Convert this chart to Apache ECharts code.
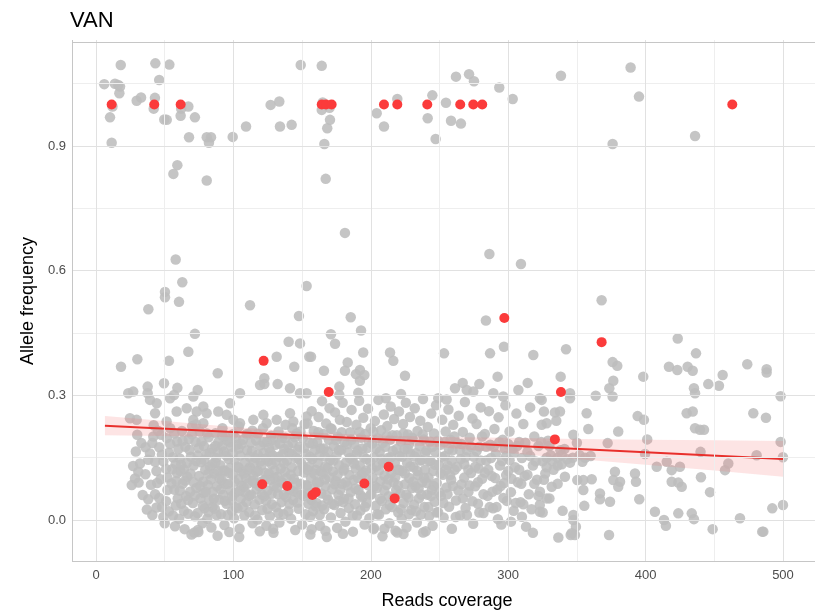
<!DOCTYPE html>
<html>
<head>
<meta charset="utf-8">
<script src="https://cdn.jsdelivr.net/npm/echarts@6/dist/echarts.min.js"></script>
<style>
html,body{margin:0;padding:0;background:#fff;}
#chart{width:815px;height:612px;}
</style>
</head>
<body>
<div id="chart"></div>
<script>
// ---- labels and ticks ----
const chartTitle = 'VAN';
const xLabel = 'Reads coverage';
const yLabel = 'Allele frequency';
const xTicks = [0, 100, 200, 300, 400, 500];
const xMinorTicks = [50, 150, 250, 350, 450];
const yTicks = [0, 0.3, 0.6, 0.9];
const yMinorTicks = [0.15, 0.45, 0.75, 1.05];
const xRange = [-17.47, 528.4];
const yRange = [-0.1011, 1.1552];
// panel frame edges: left, bottom, top (the right edge lies past the canvas)
const frameX = [-17.4];
const frameY = [-0.1005, 1.1535];

// ---- jittered variant calls (coverage, allele frequency) ----
const grayUpper = [
  [18,1.095],[43.2,1.099],[53.4,1.096],[149,1.095],[6,1.049],[13.8,1.05],[16.2,1.047],[17.5,1.043],[17,1.027],
  [46,1.059],[29.6,1.009],[32.8,1.017],[42.9,1.016],[10.2,0.969],[11.4,0.908],[49.7,0.964],[51.5,0.963],
  [61.6,0.973],[67.2,0.995],[72,0.969],[67.7,0.921],[80.6,0.921],[83.7,0.921],[82.2,0.908],[99.5,0.922],
  [109.2,0.947],[127.1,0.999],[133.4,1.007],[133.9,0.947],[142.4,0.951],[59.2,0.854],[56.3,0.833],[80.6,0.817],
  [164.3,1.093],[164.3,0.987],[170.3,0.963],[168.3,0.943],[166.2,0.905],[167.2,0.821],[204.3,0.979],
  [209.6,0.947],[219.3,1.013],[241.4,0.967],[244.8,1.022],[247.2,0.917],[254.7,1.004],[258.4,0.961],
  [265.6,0.954],[262,1.067],[271.5,1.073],[275.1,1.056],[293.5,1.041],[303.3,1.013],
  [338.4,1.069],[389.1,1.089],[395.2,1.019],[376,0.905],[436,0.924],
  [12,0.995],[165,1.005],[170,0.992],[42,0.99],[62,0.99]
];

const grayMiddle = [
  [58,0.627],[62.8,0.572],[50.2,0.549],[50.2,0.536],[60.4,0.525],[38.1,0.507],[112.1,0.517],[153.3,0.563],
  [147.7,0.491],[72,0.448],[67.2,0.405],[140.2,0.429],[148.5,0.425],[131.5,0.393],[155.2,0.393],[144.3,0.369],
  [30.1,0.387],[18.2,0.369],[53.1,0.383],[88.6,0.353],[122.5,0.341],[122.5,0.327],[132.2,0.327],[141.2,0.317],
  [49.5,0.329],[59.2,0.318],[74,0.313],[37.6,0.321],[37.6,0.305],[23.5,0.305],[27.1,0.309],[153.3,0.305],
  [104.8,0.305],[119.4,0.325],
  [181.2,0.691],[286.3,0.640],[309.3,0.616],[185.4,0.488],[192.9,0.456],[171,0.447],[174,0.424],[156.5,0.393],
  [283.8,0.480],[286.8,0.401],[296.9,0.417],[253.3,0.401],[318.3,0.397],[194.5,0.403],[183.2,0.379],
  [181.2,0.359],[165.9,0.359],[214,0.403],[216.4,0.383],[192.1,0.361],[189.2,0.351],[195.3,0.349],
  [192.1,0.335],[224.9,0.347],[190.9,0.306],[177.1,0.321],[177.1,0.301],[222,0.303],[211,0.293],
  [266.9,0.330],[261.3,0.317],[279,0.327],[274.6,0.309],[269.8,0.313],[292.3,0.345],[289.2,0.305],
  [296.4,0.297],[307.4,0.313],[314.2,0.330],[323.1,0.293],[249.1,0.293],[255.2,0.290],
  [56.8,0.301],[70.8,0.297],[53.9,0.293],[44.2,0.281],[39.3,0.289],[43,0.257],[58.7,0.261],[66,0.269],
  [73.3,0.261],[78.1,0.273],[80.5,0.257],[89,0.261],[97.5,0.281],[121.8,0.253],[141.2,0.257],[148.5,0.305],
  [24.7,0.245],[29.6,0.241],[51.4,0.237],[70.8,0.241],[78.1,0.233],[95.1,0.253],[100,0.241],[104.8,0.233],
  [114.5,0.241],[124.2,0.233],[131.5,0.241],[143.6,0.237],[153.3,0.249]
];

const grayCore = [
  [36,0.175],[38,0.05],[39.3,0.16],[30.8,0.116],[26,0.084],[32,0.136],[28.4,0.100],
  [41,0.012],[43,0.062],[44,0.118],[46,0.175],[42,0.228],[48,0.031],[49,0.141],[44.5,0.089],[47.5,0.205],[50,-0.008],[41.7,0.201],
  [51,0.045],[52,0.102],[53,0.162],[54,0.221],[56,0.011],[57,0.073],[58,0.134],[59,0.189],[55.5,0.122],[57.5,-0.015],[59.5,0.052],[51.5,0.197],[58.5,0.094],
  [60.5,0.003],[61,0.148],[62,0.039],[62.5,0.214],[63,0.087],[64,0.122],[64.5,-0.022],[65,0.176],[65.5,0.058],[66.5,0.104],[67,0.015],[67.5,0.195],[68.5,0.068],[69,0.152],[69.5,-0.035],[70,0.226],[61.5,0.117],
  [70.5,0.041],[71,0.131],[72,0.009],[72.5,0.188],[73,0.077],[74,0.155],[74.5,-0.029],[75,0.106],[75.5,0.213],[76,0.052],[76.5,0.139],[77.5,-0.008],[78,0.092],[78.5,0.178],[79,0.028],[79.5,0.121],[72.8,0.23],[78.2,0.065],
  [80.5,0.158],[81,0.003],[81.5,0.084],[82,0.199],[82.5,0.047],[83,0.129],[84,-0.018],[84.5,0.171],[85,0.068],[86,0.112],[86.5,0.027],[87,0.209],[87.5,0.149],[88,0.081],[88.5,-0.038],[89,0.187],[89.5,0.049],[81.8,0.112],[84.8,0.031],[86.8,0.178],[88.8,0.118],
  [90.5,0.132],[91,0.014],[91.5,0.096],[92,0.221],[92.5,0.061],[93,0.165],[93.5,-0.012],[94,0.118],[95,0.039],[95.5,0.191],[96,0.087],[96.5,0.147],[97,-0.029],[98,0.071],[98.5,0.176],[99,0.021],[99.5,0.109],[100,0.207],[91.8,0.178],[93.8,0.046],[97.8,0.126],[99.2,0.058],[94.2,0.201],
  [100.5,0.004],[101,0.143],[101.5,0.066],[102.5,0.181],[103,0.028],[103.5,0.098],[104,0.225],[104.5,-0.021],[105,0.155],[105.5,0.052],[106,0.117],[107,0.193],[107.5,0.079],[108,0.011],[108.5,0.139],[109.5,0.043],[110,0.168],[101.8,0.197],[103.8,0.126],[105.8,0.083],[109.2,0.101],[104.2,-0.041],
  [110.5,0.088],[111,0.206],[111.5,0.019],[112,0.127],[113,0.061],[113.5,0.166],[114,-0.008],[114.5,0.107],[115.5,0.037],[116,0.149],[116.5,0.192],[117,0.074],[117.5,0.001],[118,0.118],[119,0.049],[119.5,0.179],[120,0.092],[111.8,0.152],[113.8,0.215],[115.8,0.089],[117.8,0.157],[119.2,-0.027],
  [120.5,0.131],[121,0.024],[121.5,0.221],[122,0.161],[122.5,0.057],[123.5,0.113],[124,-0.014],[124.5,0.188],[125,0.071],[125.5,0.142],[126.5,0.009],[127,0.097],[127.5,0.203],[128,0.038],[128.5,0.156],[129.5,0.081],[130,0.119],[123.8,0.047],[125.8,0.174],[127.8,0.134],[129.2,-0.031],
  [130.5,0.181],[131,0.031],[132,0.104],[132.5,0.062],[133,0.152],[133.5,-0.006],[134.5,0.124],[135,0.043],[135.5,0.198],[136,0.089],[136.5,0.014],[137,0.171],[137.5,0.116],[138,0.229],[138.5,0.055],[139,0.143],[140,0.021],[132.8,0.213],[136.8,0.137],
  [140.5,0.161],[141,0.072],[142,0.003],[142.5,0.127],[143,0.186],[143.5,0.048],[144,0.099],[145,-0.024],[145.5,0.149],[146,0.208],[146.5,0.066],[147,0.118],[147.5,0.027],[148,0.176],[149,0.087],[149.5,0.136],[150,-0.011],[142.8,0.221],[146.8,0.169],
  [150.5,0.197],[151,0.058],[151.5,0.114],[152.5,0.014],[153,0.159],[153.5,0.084],[154,0.232],[154.5,0.039],[155,0.128],[155.5,0.186],[156,-0.035],[156.5,0.101],[157,0.262],[157.5,0.147],[158,0.021],[158.5,0.214],[159,0.078],[159.5,0.169],[160,0.121],[151.8,0.231],[155.8,0.008],
  [160.5,0.041],[161,0.188],[161.5,0.137],[162,0.248],[162.5,0.091],[163,-0.014],[163.5,0.172],[164,0.064],[164.5,0.286],[165,0.111],[165.5,0.207],[166,0.026],[166.5,0.153],[167,0.081],[167.5,0.232],[168,-0.041],[168.5,0.126],[169,0.049],[169.5,0.193],[170,0.269],[162.8,0.012],[166.8,0.098],
  [170.5,0.144],[171,0.006],[171.5,0.219],[172,0.074],[172.5,0.117],[173,0.178],[173.5,0.036],[174,0.259],[174.5,0.094],[175,0.155],[175.5,-0.019],[176,0.201],[176.5,0.061],[177,0.132],[177.5,0.241],[178,0.017],[178.5,0.169],[179,0.087],[179.5,0.282],[180,0.119],[176.8,0.046],
  [180.5,0.051],[181,0.187],[181.5,-0.004],[182,0.139],[182.5,0.236],[183,0.083],[183.5,0.163],[184,0.029],[184.5,0.108],[185,0.211],[185.5,0.067],[186,0.265],[186.5,0.146],[187,-0.028],[187.5,0.096],[188,0.182],[188.5,0.038],[189,0.124],[189.5,0.229],[190,0.011],
  [190.5,0.167],[191,0.072],[191.5,0.287],[192,0.131],[192.5,0.023],[193,0.198],[193.5,0.109],[194,0.054],[194.5,0.246],[195,0.151],[195.5,-0.011],[196,0.207],[196.5,0.119],[197,0.041],[197.5,0.173],[198,0.268],[198.5,0.083],[199,0.004],[199.5,0.141],[200,0.221],
  [200.5,0.062],[201,0.184],[201.5,0.101],[202,-0.022],[202.5,0.151],[203,0.238],[203.5,0.034],[204,0.129],[204.5,0.077],[205,0.197],[205.5,0.289],[206,0.013],[206.5,0.164],[207,0.093],[207.5,0.216],[208,0.046],[208.5,-0.039],[209,0.138],[209.5,0.254],[210,0.107],
  [210.5,0.176],[211,0.026],[211.5,0.084],[212,0.226],[212.5,0.149],[213,0.057],[213.5,-0.008],[214,0.193],[214.5,0.273],[215,0.113],[215.5,0.031],[216,0.166],[216.5,0.091],[217,0.243],[217.5,0.137],[218,-0.026],[218.5,0.072],[219,0.204],[219.5,0.121],[220,0.018],
  [220.5,0.261],[221,0.154],[221.5,0.064],[222,0.189],[222.5,0.003],[223,0.118],[223.5,0.231],[224,0.041],[224.5,0.171],[225,0.086],[225.5,0.282],[226,-0.018],[226.5,0.137],[227,0.206],[227.5,0.054],[228,0.101],[228.5,0.248],[229,0.159],[229.5,0.024],[230,0.077],[223.8,-0.034],[227.8,0.183],
  [230.5,0.196],[231,0.128],[231.5,0.037],[232,0.269],[232.5,0.081],[233,0.161],[233.5,-0.006],[234,0.214],[234.5,0.108],[235,0.052],[235.5,0.178],[236,0.239],[236.5,0.013],[237,0.144],[237.5,0.091],[238,0.291],[238.5,0.194],[239,0.031],[239.5,0.121],[240,-0.027],
  [240.5,0.167],[241,0.061],[241.5,0.224],[242,0.102],[242.5,0.009],[243,0.189],[243.5,0.142],[244,0.256],[244.5,0.072],[245,-0.014],[245.5,0.118],[246,0.208],[246.5,0.044],[247,0.163],[247.5,0.276],[248,0.089],[249,0.019],[249.5,0.133],
  [250.5,0.181],[251,0.058],[252,0.241],[252.5,0.109],[253,0.006],[254,0.154],[254.5,0.213],[255,0.078],[256,0.131],[256.5,0.266],[257,0.032],[258,0.193],[258.5,0.097],[259,-0.021],[259.5,0.168],[260,0.229],
  [261,0.121],[262,0.047],[263,0.185],[264,0.251],[265,0.011],[265.5,0.147],[266,0.086],[267,0.212],[268,0.134],[268.5,0.284],[269,0.029],[270,0.168],[271,0.067],[272,0.198],[273,0.113],[274,0.244],[274.5,-0.009],[275,0.152],[276,0.081],[277,0.231],[278,0.039],[278.5,0.124],[279,0.176],[280,0.271],
  [281,0.099],[282,0.017],[283,0.207],[284,0.143],[285,0.058],[286,0.262],[287,0.181],[288,0.106],[289,0.028],[290,0.219],[291,0.159],[292,0.073],[293,0.247],[294,0.131],[295,-0.011],[296,0.193],[297,0.089],[298,0.276],[298.5,0.154],[299,0.046],[300,0.118],[292.5,0.002],
  [301,0.213],[302,0.067],[303,0.171],[304,0.022],[305,0.127],[306,0.256],[307,0.091],[308,0.188],[309,0.043],[310,0.149],[311,0.231],[312,0.106],[313,-0.016],[314,0.164],[315,0.062],[316,0.271],[318,0.131],[319,0.201],[318,-0.031],[302,-0.004],[310,0.008],
  [321,0.097],[322,0.178],[323,0.036],[325,0.141],[326,0.261],[327,0.112],[329,0.191],[330,0.052],[331,0.156],[333,0.121],[335,0.239],[336,0.087],[338,0.168],[339,0.134],
  [71.6,-0.030],[74.2,-0.024],[128.9,-0.021],[157,-0.022],[167,-0.026],[179.7,-0.033],[202.3,-0.019],[209.9,-0.021],[219.3,-0.030],[238.1,-0.030]
];

// second layer of the dense low-frequency cloud
const grayCoreFill = [
  [27,0.13],[29,0.165],[31,0.09],[33,0.185],[34,0.06],[30,0.205],
  [36,0.11],[37,0.025],[38,0.145],[40,0.085],[41,0.185],[43,0.14],[44,0.03],[45,0.215],
  [46,0.053],[47,0.098],[48,0.157],[49,0.007],[51,0.123],[52,0.072],[53,0.021],[54,0.183],[55,0.088],
  [56,0.151],[57,0.208],[58,0.035],[59,0.113],[60,0.171],[61,0.071],[62,0.133],[63,0.191],[64,0.022],[65,0.095],
  [66,0.137],[67,0.048],[68,0.169],[68.8,0.112],[69.8,0.206],[71,0.091],[72,0.059],[73,0.142],[74,0.017],[74.8,0.173],
  [75.8,0.082],[76.8,0.189],[77.8,0.034],[78.8,0.145],[79.8,0.068],[80.8,0.208],[81.8,0.019],[82.8,0.161],[83.8,0.098],[84.8,0.135],
  [85.8,0.051],[86.8,0.138],[87.8,0.012],[88.8,0.162],[89.8,0.101],[90.8,0.074],[91.8,0.203],[92.8,0.119],[93.8,0.087],[94.8,0.155],
  [95.8,0.012],[96.8,0.113],[97.8,0.187],[98.8,0.047],[99.8,0.161],[100.8,0.092],[101.8,0.031],[102.8,0.128],[103.8,0.172],[104.8,0.071],
  [105.8,0.183],[106.8,0.032],[107.8,0.112],[108.8,0.066],[109.8,0.207],[110.8,0.121],[111.8,0.058],[112.8,0.186],[113.8,0.094],[114.8,0.138],
  [115.8,0.011],[116.8,0.116],[117.8,0.207],[118.8,0.082],[119.8,0.141],[120.8,0.062],[121.8,0.187],[122.8,0.097],[123.8,0.148],[124.8,0.027],
  [125.8,0.112],[126.8,0.164],[127.8,0.063],[128.8,0.193],[129.8,0.101],[130.8,0.142],[131.8,0.078],[132.8,0.017],[133.8,0.184],[134.8,0.093],
  [135.8,0.158],[136.8,0.061],[137.8,0.198],[138.8,0.101],[139.8,0.178],[140.8,0.039],[141.8,0.109],[142.8,0.158],[143.8,0.069],[144.8,0.199],
  [145.8,0.089],[146.8,0.042],[147.8,0.146],[148.8,0.213],[149.8,0.061],[150.8,0.128],[151.8,0.174],[152.8,0.081],[153.8,0.121],[154.8,0.064],
  [155.8,0.152],[156.8,0.048],[157.8,0.184],[158.8,0.112],[159.8,0.033],[160.8,0.091],[161.8,0.211],[162.8,0.156],[163.8,0.117],[164.8,0.035],
  [165.8,0.172],[166.8,0.128],[167.8,0.059],[168.8,0.164],[169.8,0.103],[170.8,0.221],[171.8,0.039],[172.8,0.143],[173.8,0.086],[174.8,0.192],
  [175.8,0.108],[176.8,0.168],[177.8,0.073],[178.8,0.211],[179.8,0.043],[180.8,0.124],[181.8,0.091],[182.8,0.183],[183.8,0.052],[184.8,0.149],
  [185.8,0.193],[186.8,0.011],[187.8,0.136],[188.8,0.076],[189.8,0.159],[190.8,0.101],[191.8,0.212],[192.8,0.059],[193.8,0.172],[194.8,0.114],
  [195.8,0.032],[196.8,0.147],[197.8,0.096],[198.8,0.188],[199.8,0.061],[200.8,0.124],[201.8,0.213],[202.8,0.081],[203.8,0.172],[204.8,0.014],
  [205.8,0.119],[206.8,0.051],[207.8,0.146],[208.8,0.186],[209.8,0.071],[210.8,0.138],[211.8,0.202],[212.8,0.098],[213.8,0.036],[214.8,0.151],
  [215.8,0.204],[216.8,0.054],[217.8,0.103],[218.8,0.171],[219.8,0.083],[220.8,0.121],[221.8,0.026],[222.8,0.152],[223.8,0.208],[224.8,0.112],
  [225.8,0.061],[226.8,0.171],[227.8,0.014],[228.8,0.129],[229.8,0.198],[230.8,0.092],[231.8,0.153],[232.8,0.021],[233.8,0.118],[234.8,0.076],
  [235.8,0.143],[236.8,0.061],[237.8,0.206],[238.8,0.101],[239.8,0.162],[240.8,0.089],[241.8,0.031],[242.8,0.141],[243.8,0.058],[244.8,0.176],
  [245.8,0.082],[246.8,0.133],[247.8,0.018],[248.8,0.191],[249.8,0.066],[250.8,0.112],[251.8,0.151],[252.8,0.041],[253.8,0.188],[254.8,0.121],
  [255.8,0.062],[256.8,0.171],[257.8,0.108],[258.8,0.143],[259.8,0.082],[260.8,0.201],[261.8,0.007],[262.8,0.128],[263.8,0.071],[264.8,0.168],
  [266,0.183],[267,0.052],[268,0.102],[269,0.151],[270,0.012],[271,0.121],[272,0.083],[273,0.176],[274,0.045],
  [276,0.128],[277,0.166],[278,0.091],[279,0.018],[280,0.143],[281,0.201],[282,0.062],[283,0.114],[284,0.176],
  [285.5,0.121],[286.5,0.031],[287.5,0.149],[288.5,0.068],[289.5,0.176],[290.5,0.101],[291.5,0.031],[293.5,0.187],[294.5,0.082],
  [295.5,0.142],[296.5,0.053],[297.5,0.171],[298.5,0.108],[300,0.183],[301,0.144],[302.5,0.099],[304,0.161],
  [305.5,0.041],[306.5,0.178],[308,0.121],[309.5,0.087],[311,0.038],[312.5,0.186],[314,0.109],
  [316,0.154],[317,0.026],[319,0.087],[320,0.141],[322,0.058],[324,0.188],[326,0.097],[328,0.052]
];

const grayRight = [
  [368,0.529],[342.1,0.411],[423.4,0.437],[436.7,0.401],[376,0.380],[379.4,0.371],[417,0.369],[423.1,0.361],
  [430.6,0.369],[434.3,0.359],[474,0.375],[488.1,0.363],[488.1,0.355],[398.3,0.345],[456.1,0.349],[376.5,0.335],
  [373.6,0.317],[376,0.297],[445.6,0.327],[453.4,0.323],[435.2,0.317],[436,0.305],[338.2,0.345],[345,0.305],
  [363.7,0.299],[498.3,0.298],[345,0.293],[324.4,0.289],[334,0.259],[337.7,0.261],[357.1,0.257],[394.2,0.250],
  [398.8,0.241],[429.9,0.257],[434.3,0.261],[478.4,0.257],[487.6,0.246],[324.4,0.229],[328,0.233],[358.3,0.219],
  [380.1,0.213],[347.4,0.205],[436,0.221],[439.6,0.217],[442.5,0.217],[372.4,0.185],[401.2,0.194],[498.3,0.188],
  [500,0.151],[480.8,0.156],[440,0.164],[399.6,0.159],[330,0.178],[341,0.171],[350,0.186],
  [328,0.150],[332,0.142],[336,0.150],[339,0.156],[343,0.146],[347,0.150],[352,0.156],[356,0.150],[360,0.154],
  [328,0.127],[336,0.131],[345,0.138],[354,0.140],
  [377.7,0.116],[381.4,0.092],[376.5,0.096],[380.1,0.080],[392.3,0.112],[393,0.092],[408.1,0.128],[415.4,0.140],
  [419,0.120],[425,0.128],[457.8,0.120],[460.2,0.136],[440.3,0.103],[419,0.092],[423.8,0.090],[426.3,0.080],
  [446.9,0.067],[341.3,0.104],[331.7,0.080],[350.3,0.096],[354.7,0.096],[354.7,0.072],[360.8,0.098],[323.1,0.068],
  [323.1,0.020],[366.8,0.064],[366.8,0.050],[374.1,0.044],[395.4,0.050],[355.4,0.034],[406.8,0.020],[413.4,0.0],
  [414.8,-0.014],[423.8,0.016],[433.6,0.016],[435.2,0.002],[448.8,-0.022],[468.7,0.004],[492.2,0.028],[500,0.036],
  [485.7,-0.028],[339.6,0.022],[325.1,0.018],[347.4,0.012],[347.4,0.0],[349.3,-0.016],[346.2,-0.032],
  [348.6,-0.036],[336.5,-0.042],[373.4,-0.036],[484.9,-0.028],[345.5,-0.036]
];

// ---- highlighted calls ----
const redPoints = [
  [11.4,1.0],[42.4,1.0],[61.6,1.0],[164.3,1.0],[167.4,1.0],[171.5,1.0],[209.6,1.0],[219.3,1.0],[241.1,1.0],
  [265.1,1.0],[274.6,1.0],[281.1,1.0],[463.1,1.0],
  [122,0.383],[297.2,0.486],[169.4,0.308],[368,0.428],[338.4,0.308],[334,0.194],
  [121,0.086],[139.2,0.082],[157.5,0.060],[160,0.067],[195.3,0.088],[213,0.128],[217.4,0.052]
];

// ---- linear fit and its confidence band ----
const fitCoverage = [6.5, 500];
const fitFrequency = [0.227, 0.147];
const bandCoverage = [6.5, 50, 100, 150, 200, 250, 300, 350, 400, 450, 500];
const bandLower = [0.204, 0.202, 0.199, 0.195, 0.187, 0.175, 0.161, 0.147, 0.133, 0.119, 0.104];
const bandUpper = [0.250, 0.238, 0.224, 0.212, 0.204, 0.200, 0.198, 0.195, 0.193, 0.192, 0.190];

const FONT = "'Liberation Sans', Arial, Helvetica, sans-serif";
const chart = echarts.init(document.getElementById('chart'), null, { renderer: 'canvas' });

const majorStyle = { color: '#e1e1e1', width: 1, type: 'solid' };
const minorStyle = { color: '#eeeeee', width: 1, type: 'solid' };
const borderStyle = { color: '#c6c6c6', width: 1, type: 'solid' };
const gridLineData = [
  ...xMinorTicks.map(v => ({ xAxis: v, lineStyle: minorStyle })),
  ...yMinorTicks.map(v => ({ yAxis: v, lineStyle: minorStyle })),
  ...xTicks.map(v => ({ xAxis: v, lineStyle: majorStyle })),
  ...yTicks.map(v => ({ yAxis: v, lineStyle: majorStyle })),
  ...frameX.map(v => ({ xAxis: v, lineStyle: borderStyle })),
  ...frameY.map(v => ({ yAxis: v, lineStyle: borderStyle }))
];

const option = {
  animation: false,
  backgroundColor: '#ffffff',
  title: {
    text: chartTitle,
    left: 65,
    top: 5,
    textStyle: { fontFamily: FONT, fontSize: 22, fontWeight: 'normal', color: '#000000' }
  },
  grid: {
    left: 72, top: 40, width: 750, height: 522,
    outerBoundsMode: 'none',
    containLabel: false,
    show: false
  },
  xAxis: {
    type: 'value',
    min: xRange[0], max: xRange[1],
    name: xLabel,
    nameLocation: 'middle',
    nameGap: 30,
    nameTextStyle: { fontFamily: FONT, fontSize: 18, color: '#000000' },
    axisLine: { show: false },
    splitLine: { show: false },
    axisTick: { show: true, length: 4, customValues: xTicks, lineStyle: { color: '#b3b3b3' } },
    axisLabel: { customValues: xTicks, color: '#4d4d4d', fontFamily: FONT, fontSize: 13, margin: 7 }
  },
  yAxis: {
    type: 'value',
    min: yRange[0], max: yRange[1],
    name: yLabel,
    nameLocation: 'middle',
    nameRotate: 90,
    nameGap: 35,
    nameTextStyle: { fontFamily: FONT, fontSize: 18, color: '#000000' },
    axisLine: { show: false },
    splitLine: { show: false },
    axisTick: { show: true, length: 4, customValues: yTicks, lineStyle: { color: '#b3b3b3' } },
    axisLabel: {
      customValues: yTicks, color: '#4d4d4d', fontFamily: FONT, fontSize: 13, margin: 6,
      formatter: v => Number(v).toFixed(1)
    }
  },
  series: [
    {
      name: 'grid',
      type: 'scatter',
      data: [],
      silent: true,
      z: 1,
      markLine: {
        silent: true,
        symbol: ['none', 'none'],
        label: { show: false },
        emphasis: { disabled: true },
        animation: false,
        data: gridLineData
      }
    },
    {
      name: 'calls',
      type: 'scatter',
      data: [...grayUpper, ...grayMiddle, ...grayCore, ...grayCoreFill, ...grayRight],
      symbol: 'circle',
      symbolSize: 10.5,
      itemStyle: { color: '#bdbdbd', opacity: 0.88 },
      silent: true,
      z: 2
    },
    {
      name: 'band',
      type: 'custom',
      data: bandCoverage.map((x, i) => [x, bandLower[i], bandUpper[i]]),
      encode: { x: 0, y: [1, 2] },
      silent: true,
      z: 3,
      renderItem: (params, api) => {
        if (params.dataIndex !== 0) return null;
        const pts = [];
        for (let i = 0; i < bandCoverage.length; i++) pts.push(api.coord([bandCoverage[i], bandUpper[i]]));
        for (let i = bandCoverage.length - 1; i >= 0; i--) pts.push(api.coord([bandCoverage[i], bandLower[i]]));
        return { type: 'polygon', shape: { points: pts }, style: { fill: 'rgba(245,120,120,0.2)' } };
      }
    },
    {
      name: 'fit',
      type: 'line',
      data: fitCoverage.map((x, i) => [x, fitFrequency[i]]),
      symbol: 'none',
      lineStyle: { color: '#e8302c', width: 2 },
      silent: true,
      z: 4
    },
    {
      name: 'highlighted',
      type: 'scatter',
      data: redPoints,
      symbol: 'circle',
      symbolSize: 10,
      itemStyle: { color: '#fb3b3b', opacity: 1 },
      silent: true,
      z: 5
    }
  ]
};

chart.setOption(option);
</script>
</body>
</html>
